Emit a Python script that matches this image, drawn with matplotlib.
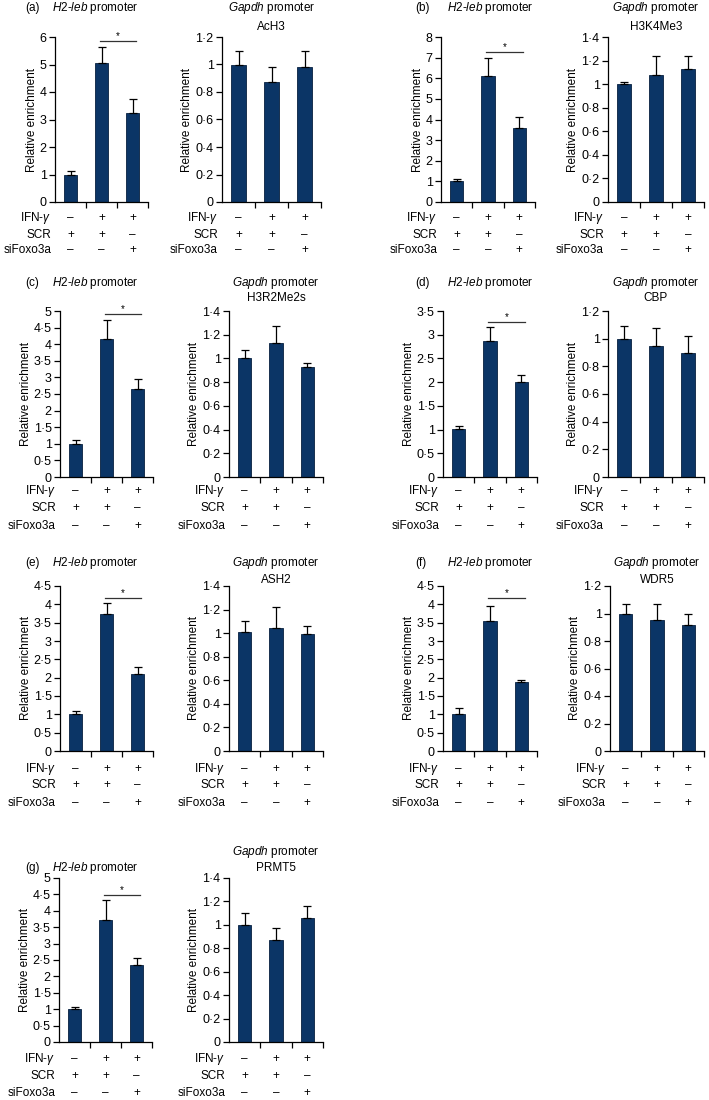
import matplotlib
matplotlib.use("Agg")
import matplotlib.pyplot as plt
from matplotlib.ticker import FuncFormatter, MultipleLocator

plt.rcParams["font.family"] = ["Liberation Sans", "DejaVu Sans"]
plt.rcParams["font.size"] = 8.5
plt.rcParams["mathtext.fontset"] = "custom"
plt.rcParams["mathtext.rm"] = "Liberation Sans"
plt.rcParams["mathtext.it"] = "Liberation Sans:italic"

# data
letters = ["a", "b", "c", "d", "e", "f", "g"]
targets = ["AcH3", "H3K4Me3", "H3R2Me2s", "CBP", "ASH2", "WDR5", "PRMT5"]

h2_means = [[1.0, 5.05, 3.24], [1.0, 6.1, 3.6], [1.0, 4.17, 2.65], [1.01, 2.86, 2.0],
            [1.0, 3.73, 2.09], [1.0, 3.55, 1.87], [1.0, 3.73, 2.35]]
h2_errs = [[0.14, 0.57, 0.5], [0.1, 0.9, 0.5], [0.1, 0.55, 0.29], [0.07, 0.3, 0.16],
           [0.08, 0.32, 0.19], [0.16, 0.41, 0.07], [0.08, 0.6, 0.22]]
h2_ymax = [6, 8, 5, 3.5, 4.5, 4.5, 5]
h2_step = [1, 1, 0.5, 0.5, 0.5, 0.5, 0.5]
star_y = [5.84, 7.27, 4.9, 3.27, 4.18, 4.18, 4.49]

gapdh_means = [[1.0, 0.87, 0.98], [1.0, 1.08, 1.13], [1.0, 1.13, 0.93], [1.0, 0.95, 0.90],
               [1.01, 1.04, 0.99], [1.0, 0.95, 0.92], [1.0, 0.87, 1.06]]
gapdh_errs = [[0.1, 0.11, 0.12], [0.02, 0.16, 0.11], [0.07, 0.14, 0.03], [0.09, 0.13, 0.12],
              [0.09, 0.18, 0.07], [0.07, 0.12, 0.08], [0.1, 0.1, 0.1]]
gapdh_ymax = [1.2, 1.4, 1.4, 1.2, 1.4, 1.2, 1.4]

cond_names = ["IFN-$\\gamma$", "SCR", "siFoxo3a"]
cond_signs = [["\u2013", "+", "+"], ["+", "+", "\u2013"], ["\u2013", "\u2013", "+"]]

# layout in pixels
W, H = 709, 1100
row_top = [37, 311, 586, 878]
row_bot = [202, 477, 751, 1042]
title_y = [8, 283, 563, 852]
sub_y = [27, 298, 580, 868]
cond_off = [[16, 33, 48], [14, 31, 49], [18, 34, 52], [17, 34, 51]]
# (left axes x0, x1, right axes x0, x1) per column/row
col_x = {
    (0, 0): (55, 148, 222, 321), (1, 0): (441, 535, 608, 704),
    (0, 1): (60, 153, 229, 323), (1, 1): (443, 537, 608, 704),
    (0, 2): (60, 153, 229, 323), (1, 2): (443, 537, 610, 704),
    (0, 3): (59, 152, 229, 323),
}
letter_x = [25, 415]
h2_x = [52, 447]

BAR = "#0b3566"
EDGE = "#07203f"
fmt = FuncFormatter(lambda v, p: f"{v:g}".replace(".", "\u00b7"))

fig = plt.figure(figsize=(W / 100, H / 100), dpi=100)


def add_ax(x0, x1, yt, yb):
    return fig.add_axes([x0 / W, 1 - yb / H, (x1 - x0) / W, (yb - yt) / H])


def style(ax, means, errs, ymax, step, r):
    ax.bar(range(3), means, width=0.43, color=BAR, edgecolor=EDGE, linewidth=0.6,
           yerr=[[0, 0, 0], errs], error_kw=dict(ecolor="black", elinewidth=0.9, capsize=3, capthick=0.9))
    for s in ("top", "right"):
        ax.spines[s].set_visible(False)
    ax.spines["left"].set_linewidth(0.9)
    ax.spines["bottom"].set_linewidth(0.9)
    ax.set_xlim(-0.5, 2.5)
    ax.set_ylim(0, ymax)
    ax.yaxis.set_major_locator(MultipleLocator(step))
    ax.yaxis.set_major_formatter(fmt)
    ax.set_xticks([0.5, 1.5, 2.5])
    ax.set_xticklabels([])
    ax.tick_params(direction="out", length=4, width=0.9, pad=2, labelsize=9)
    ax.set_ylabel("Relative enrichment", labelpad=1.5)
    for j, name in enumerate(cond_names):
        off = cond_off[r][j] * 0.72
        ax.annotate(name, xy=(0, 0), xycoords="axes fraction", xytext=(-4 * 0.72, -off),
                    textcoords="offset points", ha="right", va="center")
        for i, s in enumerate(cond_signs[j]):
            ax.annotate(s, xy=(i, 0), xycoords=("data", "axes fraction"), xytext=(0, -off),
                        textcoords="offset points", ha="center", va="center")


for k in range(7):
    col, r = k % 2, k // 2
    lx0, lx1, rx0, rx1 = col_x[(col, r)]

    ax = add_ax(lx0, lx1, row_top[r], row_bot[r])
    style(ax, h2_means[k], h2_errs[k], h2_ymax[k], h2_step[k], r)
    ax.plot([0.95, 2.12], [star_y[k], star_y[k]], color="#333333", lw=0.9, clip_on=False)
    ax.text(1.53, star_y[k], "*", ha="center", va="bottom", fontsize=7)
    ty = title_y[r] if k < 6 else 868
    fig.text(letter_x[col] / W, 1 - ty / H, f"({letters[k]})", ha="left", va="center")
    fig.text(h2_x[col] / W, 1 - ty / H, "$\\mathit{H2}$-$\\mathit{leb}$ promoter", ha="left", va="center")

    ax2 = add_ax(rx0, rx1, row_top[r], row_bot[r])
    style(ax2, gapdh_means[k], gapdh_errs[k], gapdh_ymax[k], 0.2, r)
    cx = (rx0 + rx1) / 2 / W
    fig.text(cx, 1 - title_y[r] / H, "$\\mathit{Gapdh}$ promoter", ha="center", va="center")
    fig.text(cx, 1 - sub_y[r] / H, targets[k], ha="center", va="center")

fig.savefig("out.png", dpi=100)
